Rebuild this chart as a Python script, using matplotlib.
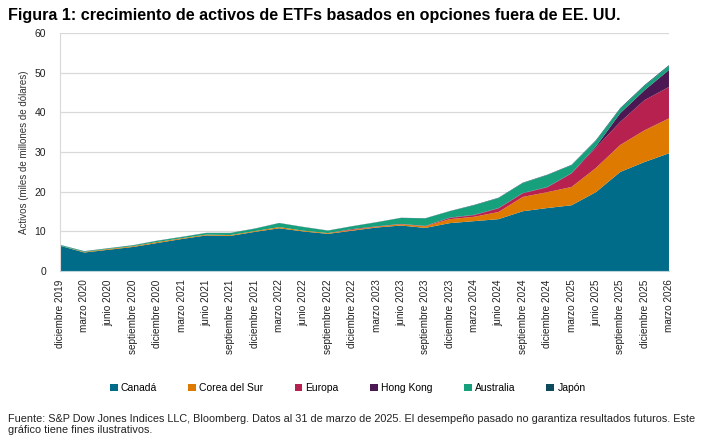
import numpy as np
import matplotlib.pyplot as plt
from matplotlib.patches import Patch

plt.rcParams['font.family'] = ['Liberation Sans', 'DejaVu Sans']

labels = ["diciembre 2019", "marzo 2020", "junio 2020", "septiembre 2020", "diciembre 2020",
          "marzo 2021", "junio 2021", "septiembre 2021", "diciembre 2021", "marzo 2022",
          "junio 2022", "septiembre 2022", "diciembre 2022", "marzo 2023", "junio 2023",
          "septiembre 2023", "diciembre 2023", "marzo 2024", "junio 2024", "septiembre 2024",
          "diciembre 2024", "marzo 2025", "junio 2025", "septiembre 2025", "diciembre 2025",
          "marzo 2026"]

canada = [6.4, 4.7, 5.4, 6.1, 7.1, 8.1, 9.0, 8.9, 9.9, 10.8, 10.0, 9.4, 10.2, 11.0, 11.5,
          10.9, 12.1, 12.6, 13.1, 15.1, 15.9, 16.6, 19.9, 25.0, 27.5, 29.7]
corea = [0.0, 0.15, 0.2, 0.2, 0.25, 0.2, 0.2, 0.2, 0.2, 0.3, 0.2, 0.2, 0.2, 0.2, 0.3,
         0.4, 1.0, 1.1, 1.8, 3.6, 4.0, 4.6, 6.1, 6.8, 8.0, 8.8]
europa = [0, 0, 0, 0, 0, 0, 0, 0, 0, 0, 0, 0, 0.2, 0.1, 0.1,
          0.1, 0.3, 0.4, 0.9, 0.9, 1.2, 3.4, 5.1, 5.8, 7.6, 7.9]
hong_kong = [0, 0, 0, 0, 0, 0, 0, 0, 0, 0, 0, 0, 0, 0, 0,
             0, 0.1, 0.1, 0.1, 0.1, 0.1, 0.1, 0.3, 2.2, 2.5, 4.3]
australia = [0.2, 0.15, 0.15, 0.2, 0.3, 0.3, 0.4, 0.5, 0.6, 1.0, 0.9, 0.6, 0.7, 1.0, 1.5,
             1.9, 1.6, 2.4, 2.5, 2.5, 3.0, 2.0, 1.4, 1.1, 1.1, 1.0]
japon = [0.05, 0.05, 0.05, 0.05, 0.05, 0.05, 0.05, 0.05, 0.05, 0.05, 0.05, 0.05, 0.05, 0.05, 0.05,
         0.05, 0.05, 0.1, 0.1, 0.1, 0.1, 0.1, 0.2, 0.2, 0.2, 0.2]

series = ["Canadá", "Corea del Sur", "Europa", "Hong Kong", "Australia", "Japón"]
colors = ["#006c89", "#df7a00", "#b7214f", "#4c1853", "#16a07b", "#0c4a5c"]

fig = plt.figure(figsize=(7.03, 4.46), dpi=100)
ax = fig.add_axes([0.0853, 0.392, 0.8663, 0.534])

x = np.arange(len(labels))
ax.stackplot(x, canada, corea, europa, hong_kong, australia, japon,
             colors=colors, linewidth=0.3, edgecolor=None, zorder=2)

ax.set_xlim(0, len(labels) - 1)
ax.set_ylim(0, 60)
ax.set_yticks(range(0, 61, 10))
ax.grid(axis='y', color='#d9d9d9', linewidth=0.9, zorder=0)
ax.set_xticks(x)
ax.set_xticklabels(labels, rotation=90, color='#222222')
ax.tick_params(axis='both', length=0, labelsize=7.5, colors='#222222')
ax.tick_params(axis='x', pad=6, labelsize=7.2)
ax.tick_params(axis='y', pad=10)
for s in ['top', 'right']:
    ax.spines[s].set_visible(False)
ax.spines['left'].set_color('#d9d9d9')
ax.spines['bottom'].set_color('#bcd3dc')
ax.set_ylabel("Activos (miles de millones de dólares)", fontsize=7, color='#333333', labelpad=4)

fig.text(0.011, 0.966, "Figura 1: crecimiento de activos de ETFs basados en opciones fuera de EE. UU.",
         fontsize=11.6, fontweight='bold', va='center', ha='left')

handles = [Patch(facecolor=c, edgecolor='none') for c in colors]
fig.legend(handles, series, loc='center left', bbox_to_anchor=(0.143, 0.13), ncol=6,
           frameon=False, fontsize=7.5, handlelength=0.75, handleheight=0.75,
           handletextpad=0.3, columnspacing=3.0)

fig.text(0.011, 0.048, "Fuente: S&P Dow Jones Indices LLC, Bloomberg. Datos al 31 de marzo de 2025. "
         "El desempeño pasado no garantiza resultados futuros. Este\ngráfico tiene fines ilustrativos.",
         fontsize=7.8, va='center', ha='left', linespacing=1.15, color='#222222')

fig.savefig("out.png", dpi=100)
